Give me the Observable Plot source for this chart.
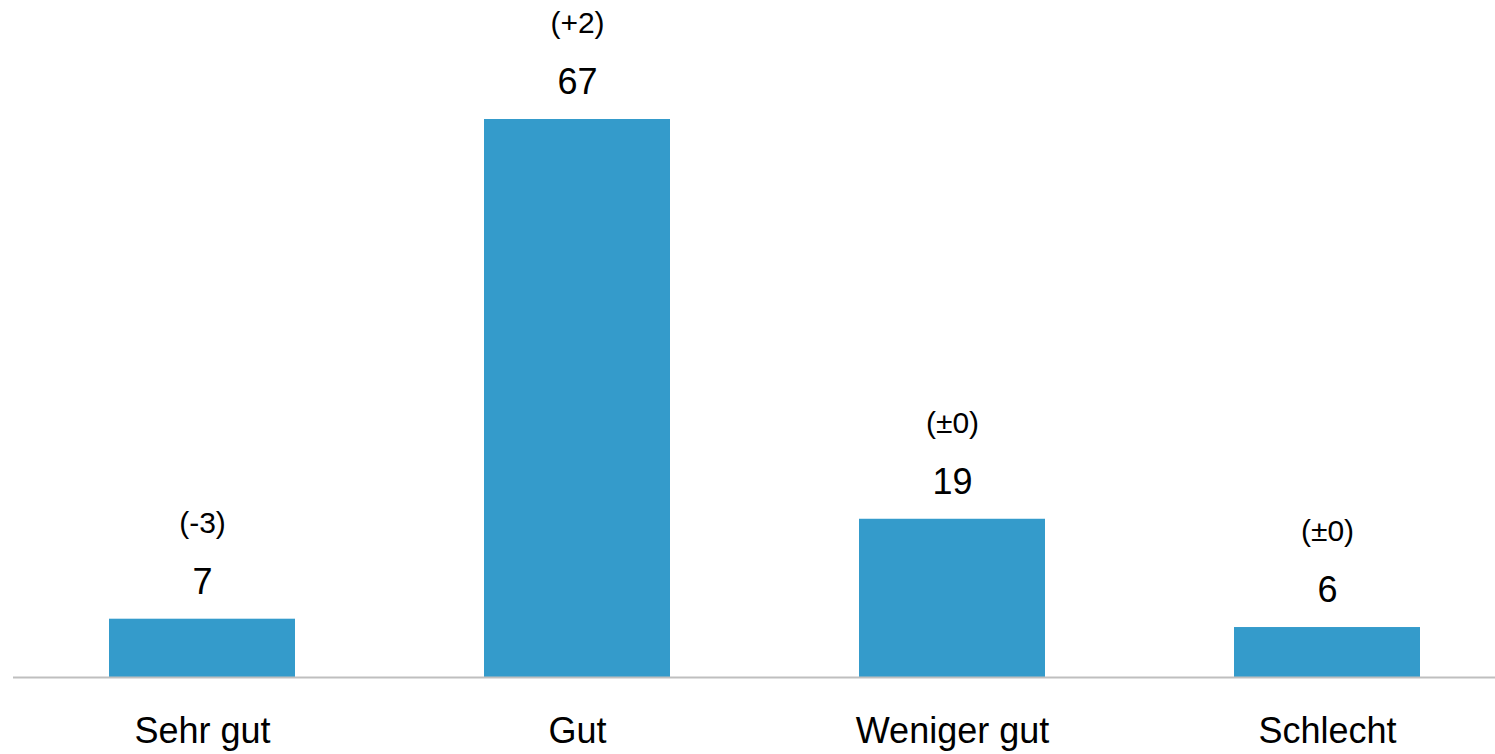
<!DOCTYPE html>
<html>
<head>
<meta charset="utf-8">
<script src="https://cdn.jsdelivr.net/npm/d3@7"></script>
<script src="https://cdn.jsdelivr.net/npm/@observablehq/plot@0.6"></script>
<style>
  html, body { margin: 0; padding: 0; background: #fff; }
  #chart svg { display: block; font-family: "Liberation Sans", Arial, sans-serif; }
</style>
</head>
<body>
<div id="chart"></div>
<script>
const categories = ["Sehr gut", "Gut", "Weniger gut", "Schlecht"];
const values = [7, 67, 19, 6];
const changes = ["(-3)", "(+2)", "(±0)", "(±0)"];

const data = categories.map((c, i) => ({category: c, value: values[i], change: changes[i]}));

const chart = Plot.plot({
  width: 1495,
  height: 754,
  marginTop: 119,
  marginBottom: 77,
  marginLeft: 13,
  marginRight: 0,
  style: {fontFamily: "'Liberation Sans', Arial, sans-serif", background: "#fff"},
  x: {domain: categories, range: [14.5, 1514.5], paddingInner: 0.504, paddingOuter: 0.252, axis: null},
  y: {domain: [0, 67], axis: null},
  marks: [
    Plot.barY(data, {x: "category", y: "value", fill: "#349bcb"}),
    Plot.ruleY([0], {stroke: "#bfbfbf", strokeWidth: 2}),
    Plot.text(data, {x: "category", y: "value", text: d => String(d.value), dy: -37, fontSize: 36, fill: "#000"}),
    Plot.text(data, {x: "category", y: "value", text: "change", dy: -96, fontSize: 30, fill: "#000"}),
    Plot.text(data, {x: "category", frameAnchor: "bottom", text: "category", dy: 65, fontSize: 36, fill: "#000"})
  ]
});
document.getElementById("chart").appendChild(chart);
</script>
</body>
</html>
